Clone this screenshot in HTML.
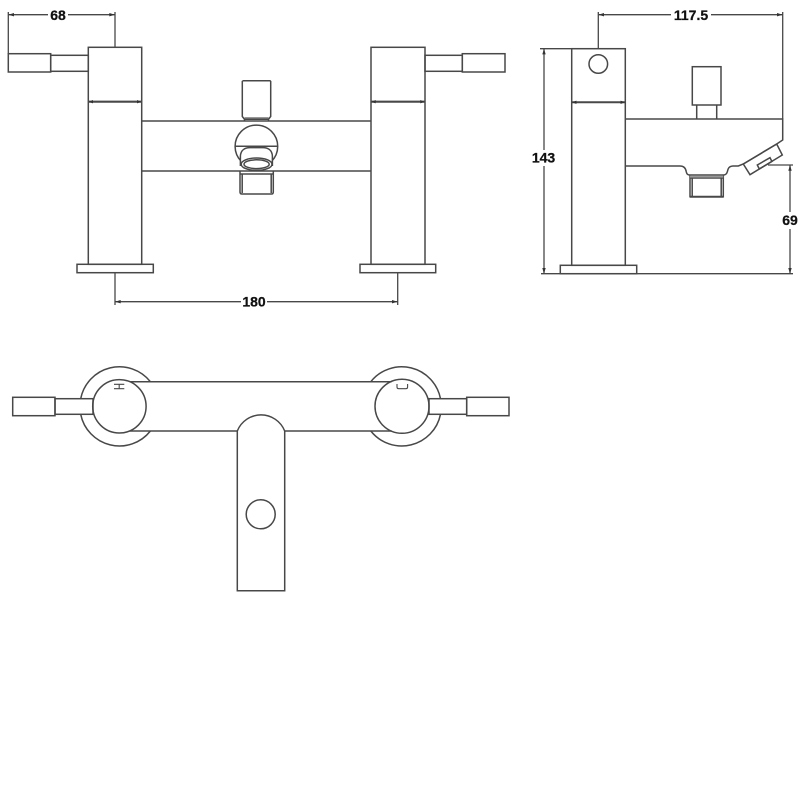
<!DOCTYPE html>
<html>
<head>
<meta charset="utf-8">
<style>
html,body{margin:0;padding:0;background:#fff;width:800px;height:800px;overflow:hidden}
svg{display:block}
.l{fill:none;stroke:#484848;stroke-width:1.5}
.d{fill:none;stroke:#484848;stroke-width:1.3}
.a{fill:#333;stroke:none}
text{font-family:"Liberation Sans",sans-serif;font-weight:bold;font-size:14px;fill:#111;stroke:#111;stroke-width:.25;text-anchor:middle}
</style>
</head>
<body>
<svg width="800" height="800" viewBox="0 0 800 800" xmlns="http://www.w3.org/2000/svg">
<rect width="800" height="800" fill="#fff"/>

<!-- FRONT VIEW -->
<g class="l">
  <!-- left valve -->
  <rect x="88.3" y="47.3" width="53.4" height="217"/>
  <rect x="77" y="264.3" width="76.3" height="8.4"/>
  <path d="M88.3 101.7H141.7" stroke-width="2.2"/>
  <rect x="8.3" y="53.7" width="42.4" height="18.3"/>
  <rect x="50.7" y="55.3" width="37.6" height="16"/>
  <!-- right valve -->
  <rect x="371" y="47.3" width="54" height="217"/>
  <rect x="360" y="264.3" width="75.7" height="8.4"/>
  <path d="M371 101.7H425" stroke-width="2.2"/>
  <rect x="425" y="55.3" width="37.3" height="16"/>
  <rect x="462.3" y="53.7" width="42.7" height="18.3"/>
  <!-- bar -->
  <path d="M141.7 121H371M141.7 171H371"/>
  <!-- centre diverter -->
  <path d="M243 80.7H270L270.7 81.4V116.5L268.5 119.3V121M243 80.7L242.3 81.4V116.5L244.5 119.3V121M244.5 119.3H268.5"/>
  <path d="M244.5 118H268.5" stroke="#777"/>
  <circle cx="256.4" cy="146.4" r="21.3" fill="#fff"/>
  <path d="M235 146.2H277.7"/>
  <path d="M240.4 166V156C240.8 150 245 147.6 250 147.6H263C268 147.6 272 150 272.4 156V166" fill="#fff"/>
  <ellipse cx="256.6" cy="164.2" rx="15.4" ry="6.2" fill="#fff"/>
  <ellipse cx="256.6" cy="164.2" rx="12.6" ry="4.4"/>
  <path d="M240 171V192C240 193.4 240.7 194 242 194H271.4C272.7 194 273.3 193.4 273.3 192V171"/>
  <path d="M242.2 174V193M271.2 174V193M240 174H273.3"/>
</g>

<!-- SIDE VIEW -->
<g class="l">
  <rect x="571.7" y="48.7" width="53.6" height="216.6"/>
  <rect x="560.3" y="265.3" width="76.4" height="8.4"/>
  <path d="M571.7 102.3H625.3" stroke-width="2"/>
  <circle cx="598.3" cy="64" r="9.3"/>
  <rect x="692.3" y="66.7" width="28.7" height="38.3"/>
  <path d="M696.7 105V119M716.7 105V119"/>
  <path d="M625.3 119H782.7V140L776.7 144L743.3 164L738.3 166H733C728.5 166.3 728 169 727.4 171.5C726.8 174 725.5 175 723.3 175H690C687.5 175 686.7 174 686.2 171.5C685.7 168.5 684 166 680 166H625.3"/>
  <path d="M743.3 164L776.7 144L782.3 155L750 174.7Z"/>
  <path d="M757.3 165L770 157.7L771.9 161.5L759.3 169Z"/>
  <path d="M690 175V196.7H723.3V175M692.2 178V196M721.2 178V196M690 178H723.3"/>
  <path d="M690 176.6H723.3" stroke="#999" stroke-width="2"/>
  <path d="M690 196.7H723.3" stroke-width="2"/>
</g>

<!-- TOP VIEW -->
<g class="l">
  <path d="M80.7 398.7A39.5 39.5 0 0 1 150.4 381.7"/>
  <path d="M80.7 414.3A39.5 39.5 0 0 0 150.4 431"/>
  <path d="M370.8 381.7A39.5 39.5 0 0 1 440.5 398.7"/>
  <path d="M370.8 431A39.5 39.5 0 0 0 440.5 414.3"/>
  <path d="M129.7 381.7H391.6M129.7 431H237.3M284.7 431H391.6"/>
  <circle cx="119.4" cy="406.3" r="26.7"/>
  <circle cx="402" cy="406.3" r="27"/>
  <rect x="12.7" y="397.3" width="42.3" height="18.4"/>
  <rect x="55" y="398.7" width="38" height="15.6"/>
  <rect x="429" y="398.7" width="37.7" height="15.6"/>
  <rect x="466.7" y="397.3" width="42.3" height="18.4"/>
  <path d="M237.3 590.7V431A25.5 25.5 0 0 1 284.7 431V590.7Z"/>
  <circle cx="260.7" cy="514.3" r="14.5"/>
  <path d="M114 384.3H124.3M114 388.7H124.3M119.2 384.3V388.7" stroke-width="1.1"/>
  <path d="M397 384V387C397 388.2 397.6 388.7 398.8 388.7H405.8C407 388.7 407.6 388.2 407.6 387V384" stroke-width="1.1"/>
</g>

<!-- DIMENSIONS -->
<g class="d">
  <path d="M8.3 12V54M115 12V47.3M8.3 14.7H48M68 14.7H115"/>
  <path d="M115 272.7V305M397.7 272.7V305M115 301.7H241M267 301.7H397.7"/>
  <path d="M598.3 12V48.7M782.7 12V119M598.3 14.7H671M711 14.7H782.7"/>
  <path d="M540 48.7H571.7M541 273.7H793M544 48.7V150M544 166V273.7"/>
  <path d="M768 165H793M790 165V212M790 229V273.7"/>
</g>
<g class="a">
  <polygon points="8.3,14.7 14,13 14,16.4"/>
  <polygon points="115,14.7 109.3,13 109.3,16.4"/>
  <polygon points="115,301.7 120.7,300 120.7,303.4"/>
  <polygon points="397.7,301.7 392,300 392,303.4"/>
  <polygon points="598.3,14.7 604,13 604,16.4"/>
  <polygon points="782.7,14.7 777,13 777,16.4"/>
  <polygon points="544,48.7 542.3,54.4 545.7,54.4"/>
  <polygon points="544,273.7 542.3,268 545.7,268"/>
  <polygon points="790,165 788.3,170.7 791.7,170.7"/>
  <polygon points="790,273.7 788.3,268 791.7,268"/>
  <polygon points="88.8,101.7 93,100 93,103.4"/>
  <polygon points="141.2,101.7 137,100 137,103.4"/>
  <polygon points="371.5,101.7 375.7,100 375.7,103.4"/>
  <polygon points="424.5,101.7 420.3,100 420.3,103.4"/>
  <polygon points="572.2,102.3 576.4,100.6 576.4,104"/>
  <polygon points="624.8,102.3 620.6,100.6 620.6,104"/>
</g>

<text x="58" y="20">68</text>
<text x="254" y="306.3">180</text>
<text x="691" y="20">117.5</text>
<text x="543.5" y="162.7">143</text>
<text x="790" y="225">69</text>
</svg>
</body>
</html>
